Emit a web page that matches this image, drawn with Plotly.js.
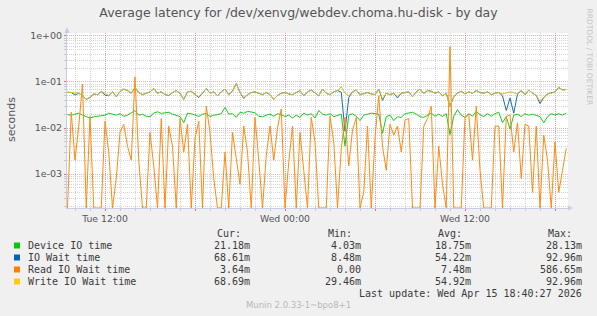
<!DOCTYPE html>
<html>
<head>
<meta charset="utf-8">
<script src="https://cdn.plot.ly/plotly-3.0.1.min.js"></script>
<style>html,body{margin:0;padding:0;background:#f0f0f0;}#chart{width:597px;height:316px;}</style>
</head>
<body>
<div id="chart"></div>
<script>
// ---- data (at 15-minute steps) ----
const startTime = Date.UTC(2026, 3, 14, 9, 30);   // Tue Apr 14 09:30
const stepMinutes = 15;

const deviceIO = [
0.0195,0.019,0.020,0.021,0.019,0.0178,0.0165,0.0175,0.018,0.0185,
0.019,0.021,0.020,0.019,0.0205,0.018,0.019,0.021,0.024,0.019,
0.0198,0.018,0.0176,0.021,0.0225,0.0208,0.0213,0.022,0.020,0.019,
0.0176,0.013,0.021,0.0205,0.019,0.0178,0.020,0.0205,0.0178,0.019,
0.0195,0.0205,0.0281,0.020,0.0205,0.017,0.022,0.021,0.023,0.022,
0.0215,0.018,0.0175,0.019,0.020,0.018,0.0205,0.0195,0.0178,0.019,
0.0165,0.019,0.017,0.021,0.019,0.0205,0.0165,0.024,0.020,0.019,
0.0205,0.0176,0.019,0.020,0.00403,0.019,0.0205,0.018,0.0145,0.019,
0.020,0.021,0.0205,0.020,0.0077,0.0176,0.019,0.0145,0.0176,0.017,
0.0205,0.0215,0.022,0.020,0.0176,0.017,0.019,0.021,0.018,0.020,
0.0178,0.0205,0.0072,0.018,0.025,0.019,0.017,0.0205,0.018,0.023,
0.0195,0.0176,0.0205,0.018,0.0205,0.022,0.013,0.0176,0.0095,0.019,
0.020,0.0176,0.0205,0.019,0.020,0.019,0.0176,0.013,0.0176,0.0205,
0.019,0.0205,0.019,0.02118];

const ioWait = [
0.060,0.059,0.052,0.057,0.050,0.042,0.046,0.055,0.053,0.062,
0.052,0.050,0.062,0.048,0.062,0.070,0.065,0.057,0.076,0.059,
0.053,0.057,0.061,0.072,0.057,0.061,0.053,0.051,0.059,0.065,
0.057,0.042,0.061,0.063,0.053,0.046,0.057,0.072,0.057,0.061,
0.050,0.061,0.070,0.053,0.063,0.09296,0.059,0.044,0.053,0.059,
0.061,0.057,0.053,0.059,0.053,0.042,0.051,0.057,0.059,0.055,
0.053,0.059,0.065,0.050,0.061,0.067,0.057,0.050,0.070,0.057,
0.053,0.061,0.065,0.060,0.00848,0.046,0.061,0.067,0.053,0.057,
0.059,0.055,0.053,0.070,0.040,0.057,0.053,0.057,0.045,0.057,
0.059,0.061,0.048,0.061,0.070,0.057,0.065,0.063,0.057,0.061,
0.050,0.057,0.0295,0.048,0.057,0.063,0.055,0.061,0.057,0.065,
0.059,0.057,0.061,0.053,0.057,0.059,0.050,0.024,0.045,0.021,
0.055,0.065,0.053,0.067,0.057,0.051,0.034,0.046,0.055,0.057,
0.061,0.076,0.067,0.06861];

const readWait = [
0,0.022,0.002,0.011,0.09,0,0.018,0,0,0,
0.014,0.003,0,0.0008,0.008,0.012,0.004,0.002,0.13,0.002,
0,0,0.008,0.0015,0,0.016,0,0.011,0.004,0,
0.016,0.003,0.012,0,0.006,0.014,0,0.03,0.008,0.0008,
0,0,0.003,0,0.008,0.002,0.0006,0.011,0.003,0,
0.017,0.002,0,0.0025,0.011,0.002,0.010,0.026,0,0.0018,
0.011,0,0.008,0.0012,0,0.017,0.005,0,0,0,
0.018,0.005,0,0.0035,0.017,0.0015,0.009,0.017,0,0.0004,
0.011,0,0.006,0.05,0.004,0.0012,0.012,0.007,0.011,0.003,
0.015,0.016,0,0,0,0.011,0.016,0.03,0,0.004,
0.0006,0,0.58665,0,0,0,0.017,0.02,0.002,0.03,
0.0012,0,0,0,0.011,0.011,0,0.018,0.019,0.003,
0.013,0.0008,0.012,0.011,0.0004,0.011,0,0.007,0.002,0,
0.005,0.0004,0.0012,0.00364];

const writeWait = [
0.060,0.059,0.058,0.057,0.050,0.042,0.046,0.055,0.053,0.062,
0.057,0.050,0.062,0.048,0.062,0.070,0.065,0.057,0.076,0.059,
0.053,0.057,0.061,0.072,0.057,0.061,0.053,0.051,0.059,0.065,
0.057,0.042,0.061,0.063,0.053,0.048,0.057,0.072,0.057,0.061,
0.050,0.061,0.070,0.053,0.063,0.09296,0.059,0.046,0.053,0.059,
0.061,0.057,0.053,0.059,0.053,0.042,0.051,0.057,0.059,0.055,
0.053,0.059,0.065,0.050,0.061,0.067,0.057,0.050,0.070,0.057,
0.053,0.061,0.065,0.079,0.057,0.050,0.061,0.067,0.053,0.057,
0.059,0.055,0.053,0.070,0.043,0.057,0.053,0.057,0.048,0.057,
0.059,0.061,0.048,0.061,0.070,0.057,0.065,0.063,0.057,0.061,
0.050,0.057,0.0295,0.048,0.057,0.063,0.055,0.061,0.057,0.065,
0.059,0.057,0.061,0.053,0.057,0.059,0.055,0.057,0.061,0.059,
0.055,0.065,0.053,0.067,0.057,0.051,0.038,0.046,0.055,0.057,
0.061,0.076,0.067,0.06869];

const seriesNames = ["Device IO time", "IO Wait time", "Read IO Wait time", "Write IO Wait time"];
const seriesColors = ["#00cc00", "#0066b3", "#ff8000", "#ffcc00"];
const lineColors = ["#1ec81e", "#1a6db0", "#ff8a10", "#dcbc26"];
const curVals = ["21.18m", "68.61m", "3.64m", "68.69m"];
const minVals = ["4.03m", "8.48m", "0.00", "29.46m"];
const avgVals = ["18.75m", "54.22m", "7.48m", "54.92m"];
const maxVals = ["28.13m", "92.96m", "586.65m", "92.96m"];

const xTickVals = ["2026-04-14 12:00", "2026-04-14 18:00", "2026-04-15 00:00", "2026-04-15 06:00", "2026-04-15 12:00", "2026-04-15 18:00"];
const xTickText = ["Tue 12:00", "", "Wed 00:00", "", "Wed 12:00", ""];
const yTickVals = [1, 0.1, 0.01, 0.001];
const yTickText = ["1e+00", "1e-01", "1e-02", "1e-03"];

const titleText = "Average latency for /dev/xenvg/webdev.choma.hu-disk - by day";
const lastUpdate = "Last update: Wed Apr 15 18:40:27 2026";
const footer = "Munin 2.0.33-1~bpo8+1";
const sideText = "RRDTOOL / TOBI OETIKER";

// ---- build ----
function fmt(ms) { return new Date(ms).toISOString().slice(0, 16).replace("T", " "); }
const times = deviceIO.map((_, i) => fmt(startTime + i * stepMinutes * 60000));

const W = 597, H = 316;
const L = 67, R = 568, T = 33, B = 208;
const yRange = [-3.739, 0.065];
const xRange = ["2026-04-14 09:28", "2026-04-15 18:52"];
const yBottom = Math.pow(10, yRange[0]);
const P = x => (x - L) / (R - L);
const Q = y => (B - y) / (B - T);

const series = [deviceIO, ioWait, readWait.map(v => v > 0 ? v : yBottom), writeWait];
const traces = series.map((ys, k) => ({
  type: "scatter", mode: "lines", x: times, y: ys, name: seriesNames[k],
  line: { color: lineColors[k], width: 1 }, hoverinfo: "skip"
}));

const minorY = [];
for (let e = -4; e <= 0; e++) for (let m = 2; m <= 9; m++) minorY.push(m * Math.pow(10, e));

const mono = "DejaVu Sans Mono";
const sans = "DejaVu Sans";
const ann = [];
function txt(text, x, y, anchor, font) {
  ann.push({ text, xref: "paper", yref: "paper", x: P(x), y: Q(y), xanchor: anchor, yanchor: "middle",
    showarrow: false, font, borderpad: 0 });
}
const legFont = { family: mono, size: 10, color: "#3a3a3a" };
txt("Cur:", 216, 233, "left", legFont);
txt("Min:", 327, 233, "left", legFont);
txt("Avg:", 437, 233, "left", legFont);
txt("Max:", 547, 233, "left", legFont);
const shapes = [];
seriesNames.forEach((n, k) => {
  const yy = 245.5 + 12 * k;
  txt(n, 27, yy, "left", legFont);
  txt(curVals[k], 251, yy, "right", legFont);
  txt(minVals[k], 362, yy, "right", legFont);
  txt(avgVals[k], 472, yy, "right", legFont);
  txt(maxVals[k], 583, yy, "right", legFont);
  shapes.push({ type: "rect", xref: "paper", yref: "paper", x0: P(14), x1: P(20), y0: Q(yy - 3), y1: Q(yy + 3),
    fillcolor: seriesColors[k], line: { width: 0 } });
});
txt(lastUpdate, 583, 293.5, "right", legFont);
txt(footer, 298, 305, "center", { family: sans, size: 8.5, color: "#b8b8b8" });
txt("seconds", 11, 120, "center", { family: sans, size: 11, color: "#555" });
ann[ann.length - 1].textangle = -90;
ann.push({ text: sideText, xref: "paper", yref: "paper", x: P(589), y: Q(56.5), xanchor: "center", yanchor: "middle",
  showarrow: false, textangle: 90, font: { family: sans, size: 7.5, color: "#c4c4c4" } });

// axis arrows
const axisCol = "#c8cce8";
shapes.push({ type: "path", xref: "paper", yref: "paper",
  path: `M ${P(64.5)} ${Q(33)} L ${P(69.5)} ${Q(33)} L ${P(67)} ${Q(27)} Z`, fillcolor: axisCol, line: { width: 0 } });
shapes.push({ type: "path", xref: "paper", yref: "paper",
  path: `M ${P(568)} ${Q(205.5)} L ${P(568)} ${Q(210.5)} L ${P(573)} ${Q(208)} Z`, fillcolor: axisCol, line: { width: 0 } });

const majorGrid = "rgba(226,120,120,0.55)";
const minorGrid = "#d4d4d4";
const layout = {
  width: W, height: H,
  margin: { l: L, r: W - R, t: T, b: H - B, pad: 0 },
  paper_bgcolor: "#f0f0f0", plot_bgcolor: "#ffffff",
  showlegend: false,
  title: { text: titleText, xref: "container", x: 0.5, xanchor: "center", yref: "container", y: 1 - 13 / H, yanchor: "middle",
    font: { family: sans, size: 12.5, color: "#555" } },
  xaxis: {
    type: "date", range: xRange, tickmode: "array", tickvals: xTickVals, ticktext: xTickText,
    showgrid: true, gridcolor: majorGrid, griddash: "1px,1px", gridwidth: 1,
    ticks: "outside", ticklen: 2, tickcolor: "#e07070",
    tickfont: { family: sans, size: 9.3, color: "#555" },
    showline: true, linecolor: axisCol, linewidth: 1, zeroline: false, fixedrange: true,
    minor: { dtick: 3600000, tick0: "2026-04-14 00:00", showgrid: true, gridcolor: minorGrid, griddash: "1px,1px",
      ticks: "outside", ticklen: 2, tickcolor: "#c8c8c8" }
  },
  yaxis: {
    type: "log", range: yRange, tickmode: "array", tickvals: yTickVals, ticktext: yTickText,
    showgrid: true, gridcolor: majorGrid, griddash: "1px,1px", gridwidth: 1,
    ticks: "outside", ticklen: 2, tickcolor: "#e07070",
    tickfont: { family: sans, size: 9.5, color: "#555" },
    showline: true, linecolor: axisCol, linewidth: 1, zeroline: false, fixedrange: true,
    minor: { tickmode: "array", tickvals: minorY, showgrid: true, gridcolor: minorGrid, griddash: "1px,1px",
      ticks: "outside", ticklen: 2, tickcolor: "#c8c8c8" }
  },
  annotations: ann,
  shapes: shapes
};

Plotly.newPlot("chart", traces, layout, { staticPlot: true, displayModeBar: false });
</script>
</body>
</html>
